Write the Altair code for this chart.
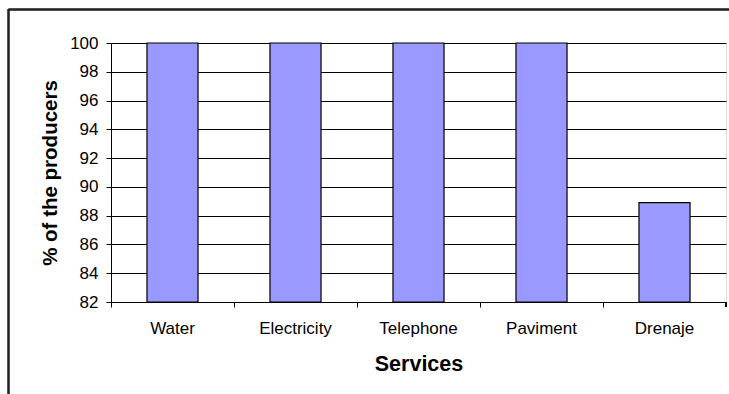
import altair as alt
import pandas as pd

services = ["Water", "Electricity", "Telephone", "Paviment", "Drenaje"]
percent = [100, 100, 100, 100, 88.9]
y_ticks = [82, 84, 86, 88, 90, 92, 94, 96, 98, 100]

df = pd.DataFrame({"Services": services, "pct": percent})

FONT = "Liberation Sans"

base = alt.Chart(df)

bars = base.mark_bar(
    color="#9999FF", stroke="#000000", strokeWidth=1.2,
    width=alt.RelativeBandSize(0.415)
).encode(
    x=alt.X("Services:N", sort=services,
            scale=alt.Scale(paddingInner=0, paddingOuter=0),
            axis=alt.Axis(title="Services", labelAngle=0, bandPosition=0,
                          tickSize=5, labelPadding=13, titlePadding=17,
                          domainColor="#000000", tickColor="#000000",
                          labelFont=FONT, labelFontSize=17, labelColor="#000000",
                          titleFont=FONT, titleFontSize=21.5, titleFontWeight="bold",
                          titleColor="#000000", grid=False)),
    y=alt.Y("pct:Q",
            scale=alt.Scale(domain=[82, 100], nice=False, zero=False),
            axis=alt.Axis(title="% of the producers", values=y_ticks,
                          tickSize=5, labelPadding=8, titlePadding=9,
                          domainColor="#000000", tickColor="#000000",
                          gridColor="#000000", gridOpacity=1, gridWidth=1,
                          labelFont=FONT, labelFontSize=17, labelColor="#000000",
                          titleFont=FONT, titleFontSize=20.5, titleFontWeight="bold",
                          titleColor="#000000")),
    y2=alt.datum(82),
)

# outer chart frame (left and top edges visible in the picture)
frame_left = base.mark_rule(color="#222222", strokeWidth=1.5).encode(
    x=alt.value(-102.5), y=alt.value(-34), y2=alt.value(400))
frame_top = base.mark_rule(color="#222222", strokeWidth=1.5).encode(
    x=alt.value(-102.5), x2=alt.value(700), y=alt.value(-33.5))
# last category boundary tick
end_tick = base.mark_rule(color="#000000", strokeWidth=1).encode(
    x=alt.value(615), y=alt.value(259), y2=alt.value(264))

chart = alt.layer(bars, end_tick, frame_left, frame_top).properties(
    width=615, height=259,
    autosize=alt.AutoSizeParams(type="none"),
    padding={"left": 111, "top": 43, "right": 3, "bottom": 92},
).configure_view(
    stroke="#808080", strokeWidth=1.5
).configure(background="#ffffff")

chart.save("out.html", embed_options={"renderer": "svg", "actions": False})
